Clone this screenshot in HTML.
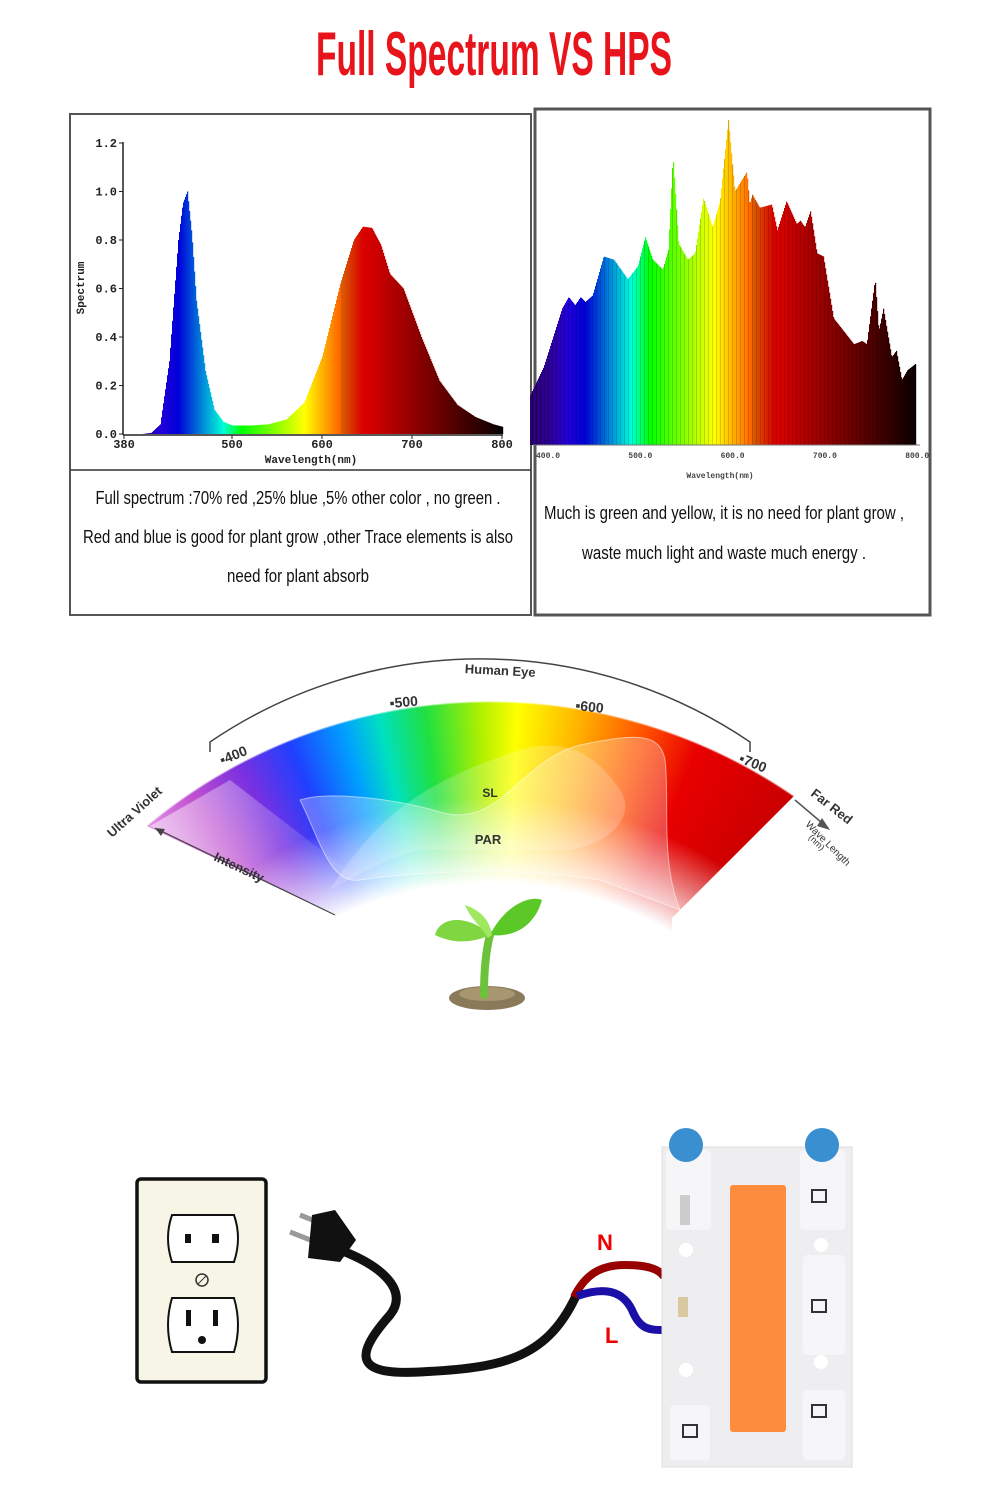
<!DOCTYPE html>
<html><head><meta charset="utf-8">
<style>
html,body{margin:0;padding:0;background:#fff;}
#wrap{position:relative;width:1000px;height:1500px;overflow:hidden;background:#fff;}
#arc{position:absolute;left:0;top:600px;width:1000px;height:420px;
background:conic-gradient(from -41deg at 490px 638px,#e8a0e8 0deg,#c050d0 7deg,#7a30e0 13deg,#2040ff 19deg,#00a0ff 25deg,#00e0c0 29deg,#20e040 34deg,#b0f000 40deg,#ffff00 44deg,#ffb000 51deg,#ff5000 58deg,#e80000 64deg,#c80000 76deg,transparent 76.2deg);
-webkit-mask:radial-gradient(circle at 490px 638px,transparent 355px,rgba(0,0,0,.35) 385px,#000 440px,#000 535px,transparent 537px);
mask:radial-gradient(circle at 490px 638px,transparent 355px,rgba(0,0,0,.35) 385px,#000 440px,#000 535px,transparent 537px);}
svg{position:absolute;left:0;top:0;}
text{font-family:"Liberation Sans",sans-serif;}
.mono{font-family:"Liberation Mono",monospace;font-weight:bold;}
.nar{font-family:"Liberation Sans Narrow","Liberation Sans",sans-serif;}
</style></head>
<body>
<div id="wrap">
<div id="arc"></div>
<svg id="s" width="1000" height="1500" viewBox="0 0 1000 1500">
<defs>
<linearGradient id="fadeL" x1="0" y1="0" x2="1" y2="0"><stop offset="0" stop-color="#fff" stop-opacity="0.5"/><stop offset="1" stop-color="#fff" stop-opacity="0"/></linearGradient>
</defs>
<path d="M130,818 L345,920 L345,1020 L60,1020 L60,818Z" fill="#fff"/>
<path d="M805,785 L672,918 L672,1020 L950,1020 L950,785Z" fill="#fff"/>
<path d="M150,826 L340,916 L360,880 L230,780Z" fill="url(#fadeL)"/>
<text x="494" y="75" fill="#e8141c" font-size="62" font-weight="bold" class="nar" text-anchor="middle" textLength="356" lengthAdjust="spacingAndGlyphs">Full Spectrum VS HPS</text>

<g>
<rect x="70" y="114" width="461" height="501" fill="#fff" stroke="#555" stroke-width="2"/>
<line x1="70" y1="470" x2="531" y2="470" stroke="#333" stroke-width="1.5"/>
<g id="lchart"></g>
<text x="298" y="504" font-size="18" class="nar" text-anchor="middle" textLength="405" lengthAdjust="spacingAndGlyphs" fill="#111">Full spectrum :70% red ,25% blue ,5% other color , no green .</text>
<text x="298" y="543" font-size="18" class="nar" text-anchor="middle" textLength="430" lengthAdjust="spacingAndGlyphs" fill="#111">Red and blue is good for plant grow ,other Trace elements is also</text>
<text x="298" y="582" font-size="18" class="nar" text-anchor="middle" textLength="142" lengthAdjust="spacingAndGlyphs" fill="#111">need for plant absorb</text>
</g>

<g>
<rect x="535" y="109" width="395" height="506" fill="#fff" stroke="#555" stroke-width="3"/>
<g id="rchart"></g>
<text x="724" y="519" font-size="18" class="nar" text-anchor="middle" textLength="360" lengthAdjust="spacingAndGlyphs" fill="#111">Much is green and yellow, it is no need for plant grow ,</text>
<text x="724" y="559" font-size="18" class="nar" text-anchor="middle" textLength="284" lengthAdjust="spacingAndGlyphs" fill="#111">waste much light and waste much energy .</text>
</g>

<g>
<path d="M300,800 C330,790 400,800 440,812 C500,830 520,760 580,745 C630,735 660,730 665,760 C670,800 660,860 680,910 L600,880 C540,870 440,868 360,880 C330,885 320,840 300,800Z" fill="#fff" fill-opacity="0.28" stroke="#fff" stroke-opacity="0.5"/>
<path d="M330,890 C380,810 430,780 520,750 C570,735 600,760 620,790 C640,820 600,850 560,850 L420,850 C380,860 350,880 330,890Z" fill="#fff" fill-opacity="0.2"/>
<path d="M210,752 L210,742 A480,480 0 0 1 750,742 L750,752" fill="none" stroke="#444" stroke-width="1.5"/>
<text x="500" y="675" font-size="13" font-weight="bold" text-anchor="middle" fill="#333" transform="rotate(3 500 675)">Human Eye</text>
<text x="390" y="708" font-size="14" font-weight="bold" fill="#333" transform="rotate(-5 390 708)">▪500</text>
<text x="575" y="710" font-size="14" font-weight="bold" fill="#333" transform="rotate(6 575 710)">▪600</text>
<text x="222" y="765" font-size="14" font-weight="bold" fill="#333" transform="rotate(-22 222 765)">▪400</text>
<text x="738" y="762" font-size="14" font-weight="bold" fill="#333" transform="rotate(22 738 762)">▪700</text>
<text x="112" y="838" font-size="13" font-weight="bold" fill="#333" transform="rotate(-42 112 838)">Ultra Violet</text>
<text x="810" y="795" font-size="13" font-weight="bold" fill="#333" transform="rotate(38 810 795)">Far Red</text>
<text x="805" y="825" font-size="10" fill="#333" transform="rotate(45 805 825)">Wave Length</text>
<text x="808" y="838" font-size="9" fill="#333" transform="rotate(45 808 838)">(nm)</text>
<path d="M795,800 L828,828" stroke="#555" stroke-width="1.5"/>
<path d="M822,818 L830,830 L817,826Z" fill="#555"/>
<path d="M155,828 L335,915" stroke="#444" stroke-width="1.2"/>
<path d="M155,828 L165,829 L161,836Z" fill="#444"/>
<text x="213" y="860" font-size="13" font-weight="bold" fill="#333" transform="rotate(25 213 860)">Intensity</text>
<text x="490" y="797" font-size="12" font-weight="bold" text-anchor="middle" fill="#333">SL</text>
<text x="488" y="844" font-size="13" font-weight="bold" text-anchor="middle" fill="#333">PAR</text>
</g>

<g>
<ellipse cx="487" cy="998" rx="38" ry="12" fill="#8a7a5a"/>
<ellipse cx="487" cy="994" rx="28" ry="7" fill="#a89670"/>
<path d="M484,995 C484,970 486,950 490,935" stroke="#6cc23a" stroke-width="8" fill="none" stroke-linecap="round"/>
<path d="M490,935 C470,915 440,915 435,935 C455,945 475,942 490,935Z" fill="#7fd640"/>
<path d="M490,935 C505,905 530,895 542,900 C535,925 515,938 490,935Z" fill="#5cc828"/>
<path d="M488,938 C480,925 470,918 465,905 C480,910 490,920 492,935Z" fill="#a0e860"/>
</g>

<g>
<rect x="137" y="1179" width="129" height="203" rx="4" fill="#f7f5e6" stroke="#111" stroke-width="3.5"/>
<path d="M172,1215 L234,1215 Q242,1238 234,1262 L172,1262 Q164,1238 172,1215Z" fill="#fff" stroke="#111" stroke-width="2"/>
<rect x="185" y="1234" width="6" height="9" fill="#111"/><rect x="212" y="1234" width="7" height="9" fill="#111"/>
<circle cx="202" cy="1280" r="6" fill="none" stroke="#333" stroke-width="1.5"/><line x1="198" y1="1284" x2="206" y2="1276" stroke="#333"/>
<path d="M172,1298 L234,1298 Q242,1325 234,1352 L172,1352 Q164,1325 172,1298Z" fill="#fff" stroke="#111" stroke-width="2"/>
<rect x="186" y="1310" width="5" height="16" fill="#111"/><rect x="213" y="1310" width="5" height="16" fill="#111"/>
<circle cx="202" cy="1340" r="4" fill="#111"/>
</g>

<g>
<line x1="300" y1="1215" x2="325" y2="1225" stroke="#999" stroke-width="5"/>
<line x1="290" y1="1232" x2="318" y2="1243" stroke="#999" stroke-width="5"/>
<path d="M312,1215 L335,1210 L356,1240 L340,1262 L308,1258Z" fill="#111"/>
<path d="M340,1250 C380,1265 410,1290 390,1315 C350,1360 360,1375 420,1372 C500,1368 545,1360 575,1298" stroke="#111" stroke-width="9" fill="none" stroke-linecap="round"/>
<path d="M574,1297 C585,1275 600,1265 625,1265 C650,1265 660,1270 664,1277" stroke="#900" stroke-width="8" fill="none"/>
<path d="M577,1296 C595,1290 620,1285 632,1310 C640,1330 650,1330 664,1330" stroke="#1a10a8" stroke-width="8" fill="none"/>
<text x="597" y="1250" font-size="22" font-weight="bold" fill="#e00">N</text>
<text x="605" y="1343" font-size="22" font-weight="bold" fill="#e00">L</text>
</g>

<g>
<rect x="662" y="1147" width="190" height="320" fill="#eeeef0" stroke="#ddd"/>
<rect x="666" y="1150" width="45" height="80" rx="4" fill="#f6f6f8"/>
<rect x="800" y="1150" width="45" height="80" rx="4" fill="#f6f6f8"/>
<rect x="803" y="1255" width="42" height="100" rx="4" fill="#f6f6f8"/>
<rect x="803" y="1390" width="42" height="70" rx="4" fill="#f6f6f8"/>
<rect x="670" y="1405" width="40" height="55" rx="4" fill="#f6f6f8"/>
<rect x="730" y="1185" width="56" height="247" rx="3" fill="#fd8d3c"/>
<circle cx="686" cy="1145" r="17" fill="#3a8fd0"/>
<circle cx="822" cy="1145" r="17" fill="#3a8fd0"/>
<rect x="812" y="1190" width="14" height="12" fill="none" stroke="#333" stroke-width="2"/>
<rect x="812" y="1300" width="14" height="12" fill="none" stroke="#333" stroke-width="2"/>
<rect x="812" y="1405" width="14" height="12" fill="none" stroke="#333" stroke-width="2"/>
<rect x="683" y="1425" width="14" height="12" fill="none" stroke="#333" stroke-width="2"/>
<rect x="680" y="1195" width="10" height="30" fill="#ccc"/>
<circle cx="686" cy="1250" r="7" fill="#fff"/><circle cx="821" cy="1245" r="7" fill="#fff"/>
<circle cx="686" cy="1370" r="7" fill="#fff"/><circle cx="821" cy="1362" r="7" fill="#fff"/>
<rect x="678" y="1297" width="10" height="20" fill="#d9c9a0"/>
</g>
</svg>
</div>
<script>
// ---- Full spectrum chart data ----
const leftWavelengths = [380,400,410,420,430,440,445,450,455,460,470,480,490,500,520,540,560,580,600,620,635,645,655,665,675,680,690,700,710,730,750,770,790,800];
const leftValues      = [0,0,0.005,0.04,0.3,0.8,0.95,1.0,0.82,0.55,0.26,0.1,0.05,0.035,0.035,0.04,0.06,0.13,0.32,0.62,0.8,0.855,0.85,0.78,0.66,0.64,0.6,0.5,0.4,0.22,0.12,0.07,0.04,0.03];
const leftYTicks = ["0.0","0.2","0.4","0.6","0.8","1.0","1.2"];
const leftXTicks = [380,500,600,700,800];
// ---- HPS chart data ----
const hpsWavelengths = [380,395,415,422,429,435,440,448,460,471,486,497,505,513,524,530,535,541,551,559,568,578,586,595,602,615,618,621,629,642,648,658,669,673,678,684,691,698,709,720,731,740,745,754,758,763,772,777,783,789,798];
const hpsValues      = [15,24,42,45.5,43,45.5,44,46,58,57,51,55,64,57,54,60,89,62,57,59,76,67,75,100,78,84,74,77,73,74,66,75,68,69,67,72,59,58,39,35,31,32,31,51,35,42,27,29,20,23,25];
const hpsXTicks = ["400.0","500.0","600.0","700.0","800.0"];

const NS="http://www.w3.org/2000/svg";
function mk(tag,attrs,parent){const e=document.createElementNS(NS,tag);for(const k in attrs)e.setAttribute(k,attrs[k]);parent.appendChild(e);return e;}
function interp(xs,ys,x){if(x<=xs[0])return ys[0];for(let i=1;i<xs.length;i++){if(x<=xs[i]){const t=(x-xs[i-1])/(xs[i]-xs[i-1]);return ys[i-1]+t*(ys[i]-ys[i-1]);}}return ys[ys.length-1];}
function wlColor(w){let r=0,g=0,b=0;
 if(w<440){r=-(w-440)/60*0.4;b=1;}else if(w<490){g=(w-440)/50;b=1;}else if(w<510){g=1;b=-(w-510)/20;}
 else if(w<580){r=(w-510)/70;g=1;}else if(w<645){r=1;g=-(w-645)/65;}else{r=1;}
 let f=1;if(w<420)f=0.3+0.7*(w-380)/40;if(w>650)f=Math.max(0,1-(w-650)/155);
 r*=f*(w>620?0.85:1);g*=f;b*=f*0.85;
 return "rgb("+Math.round(r*255)+","+Math.round(g*255)+","+Math.round(b*255)+")";}

const lx=w=>124+(w-380)*0.9, ly=v=>434-v*242.5;
const L=document.getElementById('lchart');
for(let px=Math.ceil(lx(leftWavelengths[0]));px<=lx(leftWavelengths[leftWavelengths.length-1]);px++){
 const w=380+(px-124)/0.9;const v=interp(leftWavelengths,leftValues,w);
 const r=mk('rect',{x:px,y:ly(v),width:1.2,height:434-ly(v),fill:wlColor(w)},L);
 
 
}
mk('line',{x1:123,y1:142,x2:123,y2:435,stroke:'#222','stroke-width':1.5},L);
mk('line',{x1:123,y1:435,x2:503,y2:435,stroke:'#222','stroke-width':1.5},L);
leftYTicks.forEach(t=>{const y=ly(parseFloat(t));
 mk('line',{x1:119,y1:y,x2:123,y2:y,stroke:'#222'},L);
 const e=mk('text',{x:117,y:y+4,'font-size':12,'text-anchor':'end',class:'mono',fill:'#222'},L);e.textContent=t;
 
 });
leftXTicks.forEach(t=>{const x=lx(t);
 mk('line',{x1:x,y1:435,x2:x,y2:439,stroke:'#222'},L);
 const e=mk('text',{x:x,y:448,'font-size':12,'text-anchor':'middle',class:'mono',fill:'#222'},L);e.textContent=t;
 
 });
{const e=mk('text',{x:311,y:463,'font-size':11,'text-anchor':'middle',class:'mono',fill:'#222'},L);e.textContent='Wavelength(nm)';
 
 }
{const e=mk('text',{x:84,y:288,'font-size':11,'text-anchor':'middle',class:'mono',fill:'#222',transform:'rotate(-90 84 288)'},L);e.textContent='Spectrum';
 
 }

const rx=w=>548+(w-400)*0.923, ry=v=>445-v*3.25;
const R=document.getElementById('rchart');
for(let px=Math.ceil(rx(hpsWavelengths[0]));px<=rx(hpsWavelengths[hpsWavelengths.length-1]);px++){
 const w=400+(px-548)/0.923;const v=interp(hpsWavelengths,hpsValues,w);
 let c=wlColor(w<405?405+(w-405)*0.5:w);
 if(px%4===0){c=wlColor(w).replace(/\d+/g,n=>Math.round(n*0.85));}
 const r=mk('rect',{x:px,y:ry(v),width:1.2,height:445-ry(v),fill:c},R);
 
 
}
mk('line',{x1:533,y1:445,x2:920,y2:445,stroke:'#777'},R);
hpsXTicks.forEach(t=>{const x=rx(parseFloat(t));
 const e=mk('text',{x:x,y:458,'font-size':8,'text-anchor':'middle',class:'mono',fill:'#444'},R);e.textContent=t;
 
 });
{const e=mk('text',{x:720,y:478,'font-size':8,'text-anchor':'middle',class:'mono',fill:'#444'},R);e.textContent='Wavelength(nm)';
 
 }
</script>
</body></html>
